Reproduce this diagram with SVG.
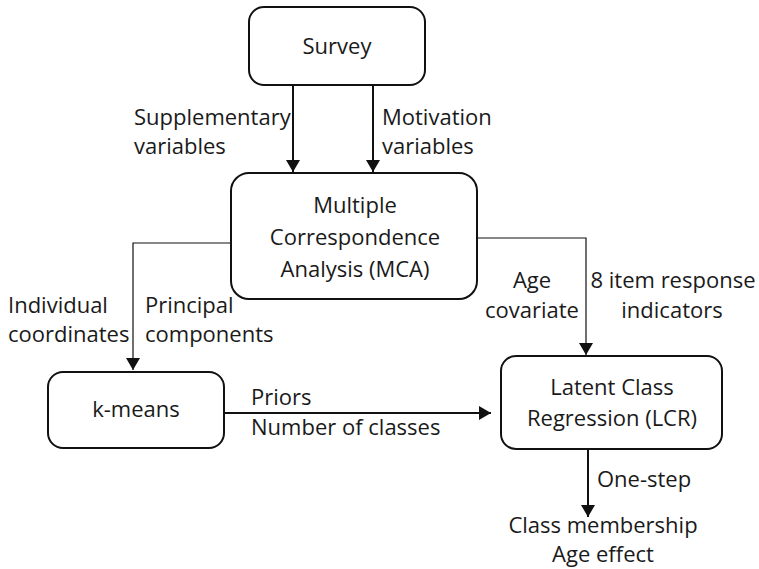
<svg xmlns="http://www.w3.org/2000/svg" width="759" height="569" viewBox="0 0 759 569">
<style>
text{font-family:"Open Sans","Liberation Sans",sans-serif;font-size:22px;fill:#1a1a1a}
.c{text-anchor:middle}
.box{fill:#fff;stroke:#111;stroke-width:2}
.thick{stroke:#111;stroke-width:2;fill:none}
.thin{stroke:#111;stroke-width:1.2;fill:none}
</style>
<defs>
<marker id="ah" viewBox="0 0 12 14" refX="12" refY="7" markerWidth="12" markerHeight="14" markerUnits="userSpaceOnUse" orient="auto">
<path d="M0,0 L12,7 L0,14 Z" fill="#111"/>
</marker>
</defs>
<rect width="759" height="569" fill="#fff"/>
<g id="connectors">
<line class="thick" x1="293" y1="85" x2="293" y2="172" marker-end="url(#ah)"/>
<line class="thick" x1="373" y1="85" x2="373" y2="172" marker-end="url(#ah)"/>
<polyline class="thin" points="231,243 133,243 133,370" marker-end="url(#ah)"/>
<polyline class="thin" points="477,238 586,238 586,355" marker-end="url(#ah)"/>
<line class="thick" x1="224" y1="413" x2="491" y2="413" marker-end="url(#ah)"/>
<line class="thick" x1="588" y1="449" x2="588" y2="517" marker-end="url(#ah)"/>
<text x="134" y="125">Supplementary</text>
<text x="134" y="154">variables</text>
<text x="382" y="125">Motivation</text>
<text x="382" y="154">variables</text>
<text x="8" y="313">Individual</text>
<text x="8" y="342">coordinates</text>
<text x="145" y="313">Principal</text>
<text x="145" y="342">components</text>
<text class="c" x="532" y="288">Age</text>
<text class="c" x="532" y="318">covariate</text>
<text class="c" x="673" y="288">8 item response</text>
<text class="c" x="672" y="318">indicators</text>
<text x="251" y="405">Priors</text>
<text x="251" y="435">Number of classes</text>
<text x="597" y="487">One-step</text>
</g>
<g id="survey">
<rect class="box" x="249" y="7" width="176" height="78" rx="15"/>
<text class="c" x="337" y="54">Survey</text>
</g>
<g id="mca">
<rect class="box" x="231" y="173" width="246" height="126" rx="18"/>
<text class="c" x="355" y="213">Multiple</text>
<text class="c" x="355" y="245">Correspondence</text>
<text class="c" x="355" y="277">Analysis (MCA)</text>
</g>
<g id="kmeans">
<rect class="box" x="48" y="372" width="176" height="76" rx="15"/>
<text class="c" x="136" y="417">k-means</text>
</g>
<g id="lcr">
<rect class="box" x="501" y="356" width="221" height="93" rx="15"/>
<text class="c" x="612" y="395">Latent Class</text>
<text class="c" x="612" y="426">Regression (LCR)</text>
</g>
<g id="output">
<text class="c" x="603" y="533">Class membership</text>
<text class="c" x="603" y="562">Age effect</text>
</g>
</svg>
